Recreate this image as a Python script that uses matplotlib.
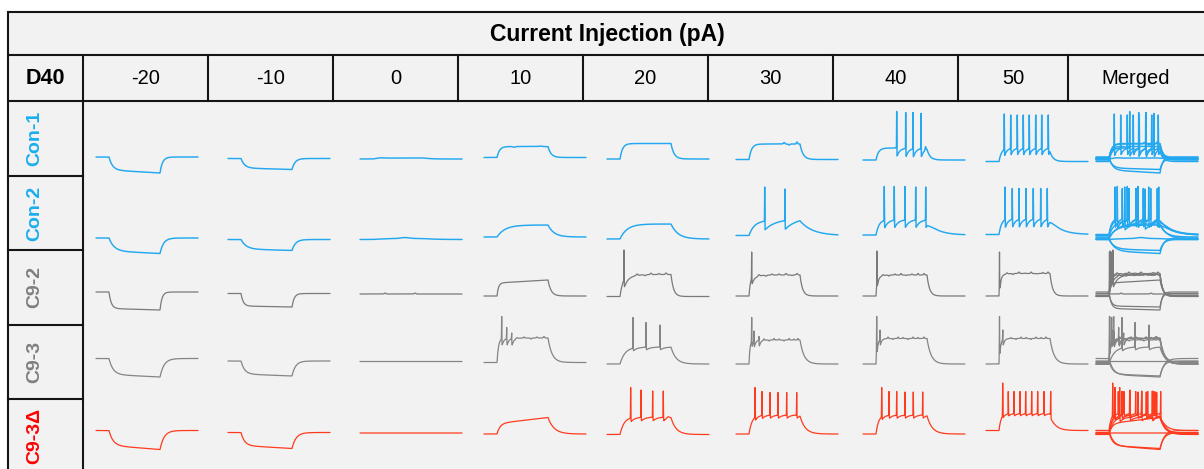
import numpy as np
import matplotlib
matplotlib.use("Agg")
import matplotlib.pyplot as plt
from matplotlib.patches import Rectangle

plt.rcParams['font.family'] = ['Liberation Sans', 'DejaVu Sans']

# ---------------- data ----------------
currents = [-20, -10, 0, 10, 20, 30, 40, 50]
col_labels = [str(c) for c in currents] + ["Merged"]
rows = ["Con-1", "Con-2", "C9-2", "C9-3", "C9-3Δ"]
title = "Current Injection (pA)"
corner = "D40"

STEP_ON, STEP_OFF, T_END = 130.0, 640.0, 1020.0  # ms

# resting potential (mV) per row / current
rest_mV = [
    [-59, -62, -63, -60, -63, -64, -65, -68],
    [-69, -72, -72, -67, -71, -64, -63, -62],
    [-59, -62, -63, -67, -68, -67, -67, -67],
    [-58, -63, -64, -66, -69, -69, -69, -69],
    [-60, -64, -65, -67, -68, -67, -67, -60],
]
# fast deflection during the step (mV)
step_dv = [
    [-26, -19, 2, 22, 31, 31, 24, 27],
    [-26, -19, 2, 24, 30, 28, 31, 32],
    [-33, -25, 0, 26, 44, 42, 42, 45],
    [-32, -26, 0, 49, 34, 48, 51, 51],
    [-30, -26, 0, 21, 35, 38, 38, 34],
]
tau_on = [
    [35, 35, 60, 25, 25, 25, 25, 25],
    [50, 50, 100, 80, 70, 50, 30, 25],
    [22, 22, 50, 15, 30, 15, 10, 10],
    [40, 35, 50, 15, 50, 10, 10, 10],
    [40, 35, 50, 30, 40, 30, 25, 20],
]
tau_off = [
    [25, 30, 60, 30, 30, 30, 30, 30],
    [35, 35, 100, 60, 70, 120, 100, 100],
    [20, 22, 50, 30, 25, 25, 25, 25],
    [40, 35, 50, 40, 50, 40, 40, 40],
    [40, 40, 50, 60, 50, 50, 50, 50],
]
# slow linear drift during the step (mV)
ramp_mV = [
    [-6, -3, 0, 0, 0, 0, 0, 0],
    [-5, -3, 0, 0, 0, 6, 0, 0],
    [-3, -2, 0, 6, 0, 0, 0, 0],
    [-5, -4, 0, 0, 0, 0, 0, 0],
    [-8, -6, 0, 12, 0, 0, 0, 0],
]
spike_times = [
    [[], [], [], [], [], [], [337, 427, 500, 580],
     [183, 247, 313, 373, 433, 497, 557, 623]],
    [[], [], [], [], [], [287, 490], [213, 313, 420, 527, 627],
     [190, 263, 330, 400, 473, 547, 613]],
    [[], [], [], [], [170], [157], [140], [135]],
    [[], [], [], [177, 227, 277], [260, 390, 530], [157, 180, 230],
     [137, 170], [135, 168]],
    [[], [], [], [], [237, 340, 457, 563], [190, 260, 340, 420, 507, 607],
     [187, 260, 337, 420, 503, 597],
     [167, 223, 280, 340, 397, 457, 517, 580, 647]],
]
spike_peaks = [  # mV above rest
    [[], [], [], [], [], [], [97, 95, 95, 93],
     [95, 93, 93, 93, 93, 93, 93, 93]],
    [[], [], [], [], [], [97, 93], [97, 97, 97, 96, 96],
     [95, 92, 92, 92, 92, 92, 92]],
    [[], [], [], [], [93], [88], [90], [88]],
    [[], [], [], [92, 70, 59], [93, 83, 78], [93, 66, 55], [95, 68], [95, 68]],
    [[], [], [], [], [94, 89, 87, 87], [93, 85, 83, 83, 83, 83],
     [93, 85, 85, 84, 84, 84], [95, 78, 78, 78, 78, 78, 78, 78, 78]],
]
ahp_mV = [
    [0, 0, 0, 0, 0, 0, 18, 14],
    [0, 0, 0, 0, 0, 18, 16, 17],
    [0, 0, 0, 0, 16, 14, 14, 14],
    [0, 0, 0, 16, 6, 15, 15, 15],
    [0, 0, 0, 0, 8, 7, 7, 5],
]
tau_ahp = [
    [30, 30, 30, 30, 30, 30, 30, 25],
    [30, 30, 30, 30, 30, 100, 40, 30],
    [30, 30, 30, 30, 60, 40, 25, 25],
    [30, 30, 30, 20, 40, 15, 15, 15],
    [30, 30, 30, 30, 40, 30, 30, 25],
]
# small wiggles on the traces: (time ms, amplitude mV, width ms)
wiggles = [
    [[], [], [(200, 1, 40)], [(300, -1.5, 15), (560, 1, 15)], [],
     [(480, 3, 10), (530, -2, 10), (610, 4, 8)], [(625, 7, 6)], []],
    [[], [], [(450, 2, 60)], [], [], [], [], []],
    [[], [], [(250, 2, 10), (550, 2, 10)], [],
     [(300, 3, 10), (380, -2, 10), (440, 3, 10), (520, 2, 10), (590, 3, 10)],
     [(230, 3, 10), (300, -2, 10), (360, 2, 10), (430, 2, 10), (500, 3, 10),
      (560, -1, 10), (610, 3, 10)],
     [(200, 2, 8), (260, -2, 8), (320, 2, 8), (380, 3, 8), (430, -1, 8),
      (490, 2, 8), (550, 3, 8), (610, 3, 8)],
     [(210, 2, 8), (270, -2, 8), (330, 3, 8), (390, 1, 8), (450, 3, 8),
      (510, -1, 8), (570, 2, 8), (620, 3, 8)]],
    [[], [], [], [(330, 2, 8), (400, 2, 8), (470, -2, 8), (530, 2, 8), (600, 3, 8)],
     [],
     [(280, 3, 6), (330, -2, 6), (380, 3, 6), (430, 2, 6), (480, -2, 6),
      (530, 3, 6), (580, 2, 6), (620, 3, 6)],
     [(250, 3, 6), (300, -2, 6), (350, 3, 6), (400, 2, 6), (450, -2, 6),
      (500, 3, 6), (550, 2, 6), (610, 3, 6)],
     [(250, 2, 6), (300, -2, 6), (350, 3, 6), (400, 2, 6), (450, -2, 6),
      (500, 3, 6), (550, 2, 6), (600, 3, 6)]],
    [[], [], [], [], [(610, 3, 15)], [], [], []],
]
spike_width_ms = [1.5, 1.5, 2.0, 2.2, 2.2]

# ---------------- styling / layout ----------------
trace_colors = ["#23A8F0", "#23A8F0", "#7A7A7A", "#858585", "#FF3B1F"]
trace_lw = [1.05, 1.05, 0.9, 0.9, 0.9]
label_colors = ["#1AAEEF", "#1AAEEF", "#808080", "#808080", "#FF0000"]
BG = "#F2F2F2"
W, H = 1204, 469
col_edges = [83, 208, 333, 458, 583, 708, 833, 958, 1068, 1204]
row_edges = [101, 176, 250, 325, 399, 469]
trace_x0 = [96, 228, 360, 484, 607, 736, 863, 986, 1096]
row_ref_px = [160, 236, 295, 362, 433]   # pixel row of -65 mV
MV_PER_PX = 2.0


def make_trace(r, c):
    t = np.arange(0, T_END + 0.25, 0.25)
    v = np.zeros_like(t)
    dv, ton, toff, ramp = step_dv[r][c], tau_on[r][c], tau_off[r][c], ramp_mV[r][c]
    m = (t >= STEP_ON) & (t < STEP_OFF)
    s = t[m] - STEP_ON
    v[m] = dv * (1 - np.exp(-s / ton)) + ramp * s / (STEP_OFF - STEP_ON)
    vend = dv * (1 - np.exp(-(STEP_OFF - STEP_ON) / ton)) + ramp
    m2 = t >= STEP_OFF
    v[m2] = vend * np.exp(-(t[m2] - STEP_OFF) / toff)
    spk = spike_times[r][c]
    for ts in spk:
        m3 = t > ts
        v[m3] -= ahp_mV[r][c] * np.exp(-(t[m3] - ts) / tau_ahp[r][c])
    for tb, a, wb in wiggles[r][c]:
        v += a * np.exp(-((t - tb) / wb) ** 2)
    w = spike_width_ms[r]
    for ts, p in zip(spk, spike_peaks[r][c]):
        i = np.searchsorted(t, ts)
        v = v + (p - v[i]) * np.exp(-((t - ts) / w) ** 2)
    return t, rest_mV[r][c] + v


fig = plt.figure(figsize=(W / 100, H / 100), dpi=100)
fig.patch.set_facecolor("white")
bg = fig.add_axes([0, 0, 1, 1])
bg.set_xlim(0, W)
bg.set_ylim(H, 0)
bg.axis("off")
bg.add_patch(Rectangle((8, 12), W, H, facecolor=BG, edgecolor="none", zorder=0))

LW = 1.5
LC = "#151515"
for y in (12, 55, 101):
    bg.plot([8, W + 5], [y, y], color=LC, lw=LW, solid_capstyle="butt")
bg.plot([8, 8], [12, H + 5], color=LC, lw=LW)
for x in col_edges[:-1]:
    bg.plot([x, x], [55, 101], color=LC, lw=LW)
bg.plot([83, 83], [101, H + 5], color=LC, lw=LW)
for y in row_edges[1:-1]:
    bg.plot([8, 83], [y, y], color=LC, lw=LW)

bg.text(607, 34, title, ha="center", va="center", fontsize=16.5,
        fontweight="bold", color="black")
bg.text(45.5, 78, corner, ha="center", va="center", fontsize=15.5,
        fontweight="bold", color="black")
for i, lab in enumerate(col_labels):
    xc = (col_edges[i] + col_edges[i + 1]) / 2
    bg.text(xc, 78, lab, ha="center", va="center", fontsize=14.5, color="black")
row_centers = [138.5, 213, 287.5, 362, 436]
for r, lab in enumerate(rows):
    bg.text(35, row_centers[r], lab, ha="center", va="center", rotation=90,
            fontsize=14, fontweight="bold", color=label_colors[r])

# traces
for r in range(len(rows)):
    ref = row_ref_px[r]
    for c in range(len(currents) + 1):
        x0 = trace_x0[c]
        ax = fig.add_axes([x0 / W, 1 - (ref + 45) / H, 102 / W, 110 / H])
        ax.set_xlim(0, T_END)
        ax.set_ylim(-65 - 45 * MV_PER_PX, -65 + 65 * MV_PER_PX)
        ax.axis("off")
        cols = range(len(currents)) if c == len(currents) else [c]
        for cc in cols:
            t, v = make_trace(r, cc)
            ax.plot(t, v, color=trace_colors[r], lw=trace_lw[r], clip_on=False,
                    solid_joinstyle="round", solid_capstyle="round")

fig.savefig("out.png", dpi=100, facecolor="white")
